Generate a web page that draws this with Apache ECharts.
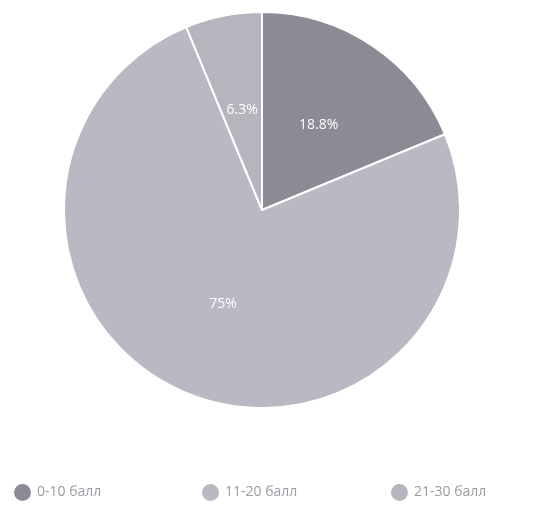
<!DOCTYPE html>
<html>
<head>
<meta charset="utf-8">
<script src="https://cdn.jsdelivr.net/npm/echarts@6/dist/echarts.min.js"></script>
<style>
  html, body { margin: 0; padding: 0; background: #fff; }
  #chart { width: 548px; height: 506px; }
</style>
</head>
<body>
<div id="chart"></div>
<script>
const categories = ["0-10 балл", "11-20 балл", "21-30 балл"];
const values = [3, 12, 1];
const labels = ["18.8%", "75%", "6.3%"];
const colors = ["#8d8a96", "#b9b9c3", "#b6b5be"];

const myChart = echarts.init(document.getElementById("chart"));

let data = [];
for (let i = 0; i < categories.length; i++) {
  data.push({
    name: categories[i],
    value: values[i],
    itemStyle: { color: colors[i] },
    label: { formatter: labels[i] },
  });
}

// one legend per item so each sits where it does in the picture
const legendLeft = [7, 195, 384];
let legends = [];
for (let i = 0; i < categories.length; i++) {
  legends.push({
    bottom: -2,
    left: legendLeft[i],
    icon: "circle",
    itemWidth: 19,
    itemHeight: 19,
    textStyle: { color: "#9a9aa2", fontSize: 14, fontFamily: "Open Sans" },
    data: [categories[i]],
  });
}

const option = {
  animation: false,
  legend: legends,
  series: [
    {
      type: "pie",
      center: [262, 210],
      radius: [0, 198],
      startAngle: 90,
      clockwise: true,
      itemStyle: { borderColor: "#fff", borderWidth: 2 },
      label: {
        show: true,
        position: "inside",
        color: "#fff",
        fontSize: 14,
        fontFamily: "Open Sans",
      },
      labelLine: { show: false },
      emphasis: { disabled: true },
      data: data,
    },
  ],
};
myChart.setOption(option);
</script>
</body>
</html>
